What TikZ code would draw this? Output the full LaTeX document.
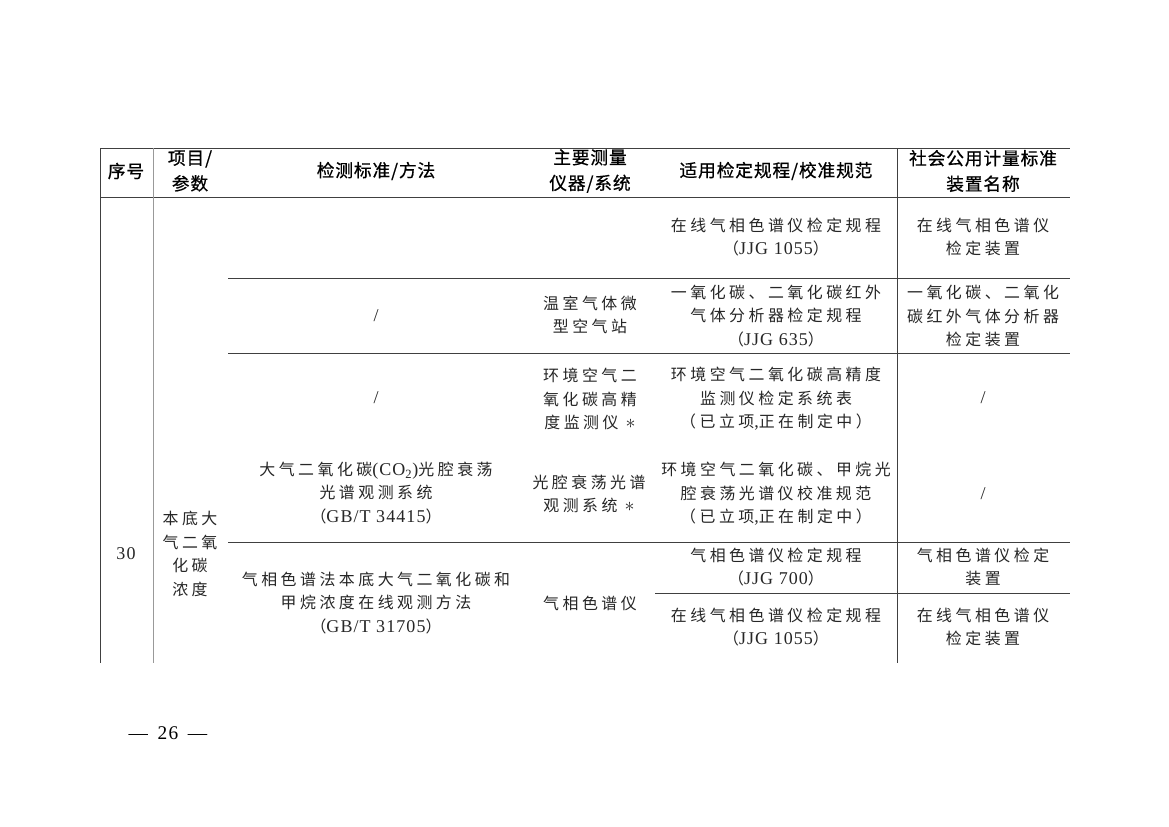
\documentclass[tikz,border=0pt]{standalone}
\usepackage{fontspec}
\setmainfont{Liberation Serif}[LetterSpace=6]
\newfontfamily\cjk{Noto Sans CJK SC}[LetterSpace=22]
\newfontfamily\cjkhead{Noto Sans CJK SC}[LetterSpace=5, FakeBold=0.7]
\newcommand\en[1]{{\rmfamily\fontsize{13}{17}\selectfont #1}}
\newcommand\pendmark{{\fontsize{15}{15}\selectfont$\ast$}}
\usetikzlibrary{positioning}

\begin{document}
\begin{tikzpicture}[
    x=0.254mm, y=-0.254mm,
    every node/.style={inner sep=0pt, align=center},
    head/.style={font=\cjkhead\fontsize{12.8}{18.5}\selectfont, text=black},
    cell/.style={font=\cjk\fontsize{11.5}{17}\selectfont, text=black!85},
    rule/.style={draw=black!75, line width=0.6pt},
    thinrule/.style={draw=black!40, line width=0.6pt}
]

    % page
    \fill[white] (0,0) rectangle (1169,826);
    \useasboundingbox (0,0) rectangle (1169,826);

    % Rules of the table
    \draw[rule] (100,148) -- (1070,148);
    \draw[rule] (100,197) -- (1070,197);
    \draw[rule] (228,278) -- (1070,278);
    \draw[rule] (228,353) -- (1070,353);
    \draw[rule] (228,542) -- (1070,542);
    \draw[rule] (655,593) -- (1070,593);
    \draw[rule] (100,148) -- (100,663);
    \draw[thinrule] (153,148) -- (153,663);
    \draw[rule] (897,148) -- (897,663);

    % Header row
    \node[head] (hNo) at (126,171) {序号};
    \node[head] (hItem) at (190,171) {项目/\\参数};
    \node[head] (hMethod) at (376,171) {检测标准/方法};
    \node[head] (hInstr) at (590,171) {主要测量\\仪器/系统};
    \node[head] (hRule) at (776,171) {适用检定规程/校准规范};
    \node[head] (hDevice) at (983,171) {社会公用计量标准\\装置名称};

    % Item 30
    \node[cell] (no) at (126,554) {\en{30}};
    \node[cell] (item) at (190,554) {本底大\\气二氧\\化碳\\浓度};

    % Row 1
    \node[cell] (rule1) at (776,237) {在线气相色谱仪检定规程\\（\en{JJG 1055}）};
    \node[cell] (dev1) at (983,237) {在线气相色谱仪\\检定装置};

    % Row 2
    \node[cell] (meth2) at (376,316) {\en{/}};
    \node[cell] (inst2) at (590,315) {温室气体微\\型空气站};
    \node[cell] (rule2) at (776,316) {一氧化碳、二氧化碳红外\\气体分析器检定规程\\（\en{JJG 635}）};
    \node[cell] (dev2) at (983,316) {一氧化碳、二氧化\\碳红外气体分析器\\检定装置};

    % Row 3
    \node[cell] (meth3) at (376,398) {\en{/}};
    \node[cell] (inst3) at (590,399) {环境空气二\\氧化碳高精\\度监测仪 \pendmark};
    \node[cell] (rule3) at (776,399) {环境空气二氧化碳高精度\\监测仪检定系统表\\（已立项\en{,}正在制定中）};
    \node[cell] (dev3) at (983,398) {\en{/}};

    % Row 4
    \node[cell] (meth4) at (376,493) {大气二氧化碳\en{(CO\textsubscript{2})}光腔衰荡\\光谱观测系统\\（\en{GB/T 34415}）};
    \node[cell] (inst4) at (589,494) {光腔衰荡光谱\\观测系统 \pendmark};
    \node[cell] (rule4) at (776,494) {环境空气二氧化碳、甲烷光\\腔衰荡光谱仪校准规范\\（已立项\en{,}正在制定中）};
    \node[cell] (dev4) at (983,494) {\en{/}};

    % Row 5
    \node[cell] (meth5) at (376,603) {气相色谱法本底大气二氧化碳和\\甲烷浓度在线观测方法\\（\en{GB/T 31705}）};
    \node[cell] (inst5) at (590,603) {气相色谱仪};
    \node[cell] (rule5) at (776,567) {气相色谱仪检定规程\\（\en{JJG 700}）};
    \node[cell] (dev5) at (983,567) {气相色谱仪检定\\装置};
    \node[cell] (rule6) at (776,627) {在线气相色谱仪检定规程\\（\en{JJG 1055}）};
    \node[cell] (dev6) at (983,627) {在线气相色谱仪\\检定装置};

    % page number
    \node[font=\rmfamily\fontsize{14}{16}\selectfont] (page) at (168,733) {—\hspace{7pt}26\hspace{7pt}—};

\end{tikzpicture}
\end{document}
